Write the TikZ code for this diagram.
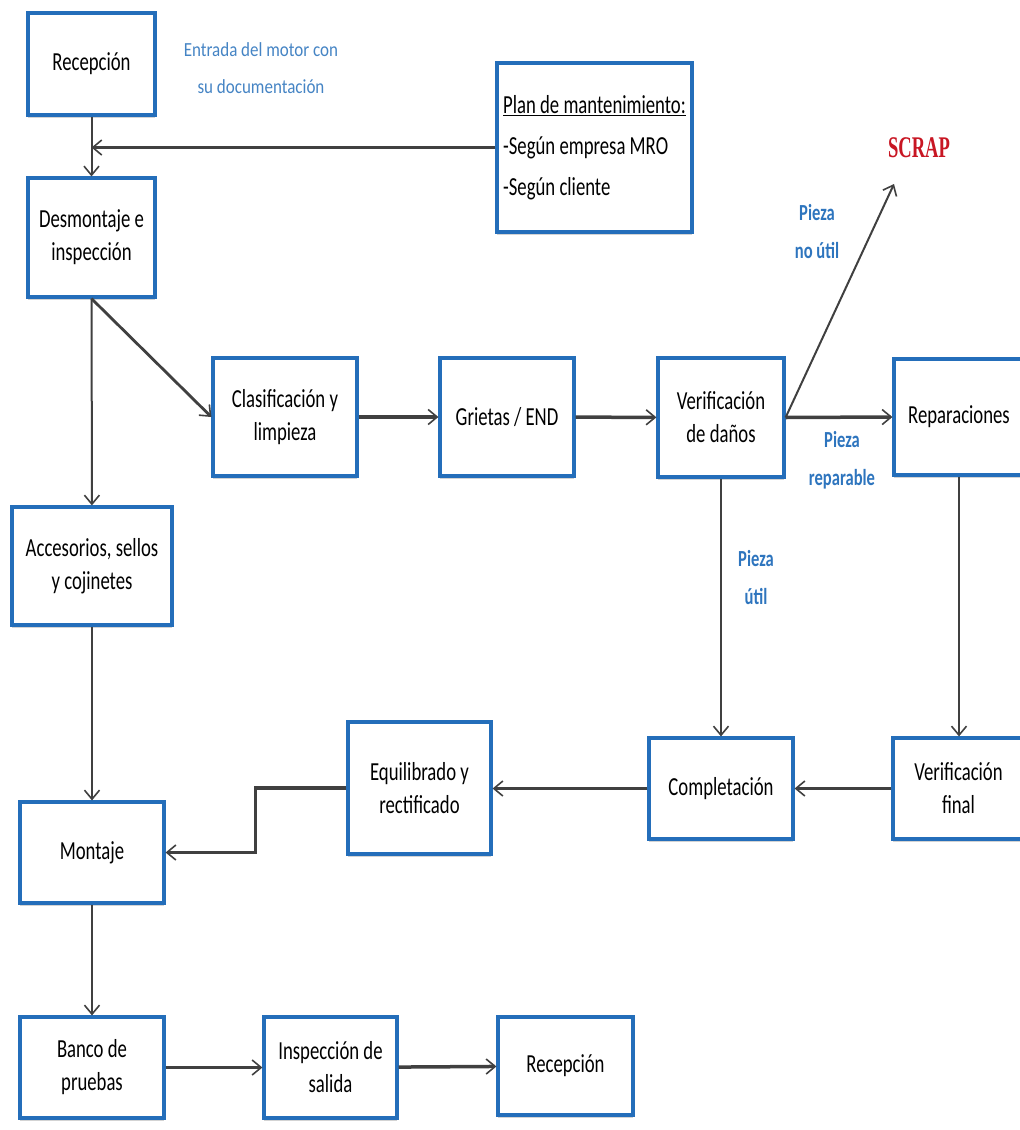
\documentclass[tikz,border=0pt]{standalone}
\usepackage{fontspec}
\setmainfont{Carlito}[FakeStretch=0.72]
\newfontfamily\widefont{Carlito}[FakeStretch=0.85]
\newfontfamily\scrapfont{Liberation Serif}[FakeStretch=0.62]
\usetikzlibrary{arrows.meta,shadows}
\definecolor{boxblue}{RGB}{36,110,186}
\definecolor{labelblue}{RGB}{46,117,190}
\definecolor{scrapred}{RGB}{200,22,35}

\begin{document}
\begin{tikzpicture}[x=1pt,y=-1pt,
  proc/.style={draw=boxblue,line width=3.2pt,fill=white,align=center,
    font=\fontsize{26}{33}\selectfont,inner sep=2pt,
    drop shadow={shadow xshift=0pt,shadow yshift=-2.5pt,opacity=0.35}},
  conn/.style={line width=2pt,black!75,-{Straight Barb[length=9pt,width=15pt,line width=1.6pt]}},
  wide/.style={line width=3.5pt},
  tag/.style={text=labelblue,font=\fontsize{23}{38}\selectfont\bfseries,align=center}]
\useasboundingbox (0,0) rectangle (1020,1130);

% left column
\node[proc,minimum width=127pt,minimum height=102pt] (recA) at (91.5,64) {Recepción};
\node[proc,minimum width=127pt,minimum height=119pt] (desm) at (91.5,237.5) {Desmontaje e\\inspección};
\node[proc,minimum width=160pt,minimum height=118pt] (acce) at (92,566) {Accesorios, sellos\\y cojinetes};
\node[proc,minimum width=144pt,minimum height=101pt] (mont) at (92,852.5) {Montaje};
\node[proc,minimum width=144pt,minimum height=101pt] (banc) at (92,1067.5) {Banco de\\pruebas};
\node[proc,minimum width=133pt,minimum height=101pt] (insp) at (330.5,1067.5) {Inspección de\\salida};
\node[proc,minimum width=135pt,minimum height=98pt] (recB) at (565.5,1066) {Recepción};

\node[text=boxblue!85,font=\widefont\fontsize{20}{37}\selectfont,align=center] (entrada) at (261,68) {Entrada del motor con\\su documentación};

\node[proc,minimum width=195pt,minimum height=169pt,align=left,
  font=\fontsize{26}{41}\selectfont] (plan) at (594.5,147.5)
  {\underline{Plan de mantenimiento:}\\-Según empresa MRO\\-Según cliente};

% middle row
\node[proc,minimum width=144pt,minimum height=118pt] (clas) at (285,417) {Clasificación y\\limpieza};
\node[proc,minimum width=134pt,minimum height=118pt] (grie) at (507,417) {Grietas / END};
\node[proc,minimum width=126pt,minimum height=119pt] (verd) at (721,417.5) {Verificación\\de daños};
\node[proc,minimum width=130pt,minimum height=116pt] (repa) at (959,417) {Reparaciones};

\node[text=scrapred,font=\scrapfont\bfseries\fontsize{30}{30}\selectfont] (scrap) at (919,148) {SCRAP};
\coordinate (scraptip) at (894,184);

\node[tag] (noutil) at (817,232) {Pieza\\no útil};
\node[tag] (repar) at (842,460) {Pieza\\reparable};
\node[tag] (util) at (756,578) {Pieza\\útil};

% lower row
\node[proc,minimum width=143pt,minimum height=132pt] (equi) at (419.5,788) {Equilibrado y\\rectificado};
\node[proc,minimum width=144pt,minimum height=101pt] (comp) at (721,788.5) {Completación};
\node[proc,minimum width=131pt,minimum height=101pt] (verf) at (958.5,788.5) {Verificación\\final};

\draw[conn] (recA) -- (desm);
\draw[conn,wide] (plan.west) -- (recA.south |- plan.west);
\draw[conn,line width=2.8pt] (desm.south) -- (clas.west);
\draw[conn] (desm) -- (acce);
\draw[conn,wide] (clas) -- (grie);
\draw[conn,wide] (grie) -- (verd);
\draw[conn,wide] (verd.east) -- (repa.west);
\draw[conn] (verd.east) -- (scraptip);
\draw[conn] (verd.south) -- (comp.north);
\draw[conn] (repa.south) -- (repa.south |- verf.north);
\draw[conn,wide] (verf) -- (comp);
\draw[conn,wide] (comp) -- (comp.west -| equi.east);
\draw[conn,wide] (equi.west) -- ++(-91,0) |- (mont.east);
\draw[conn] (acce) -- (mont);
\draw[conn] (mont) -- (banc);
\draw[conn,wide] (banc) -- (insp);
\draw[conn,wide] (insp) -- (recB);
\end{tikzpicture}
\end{document}
